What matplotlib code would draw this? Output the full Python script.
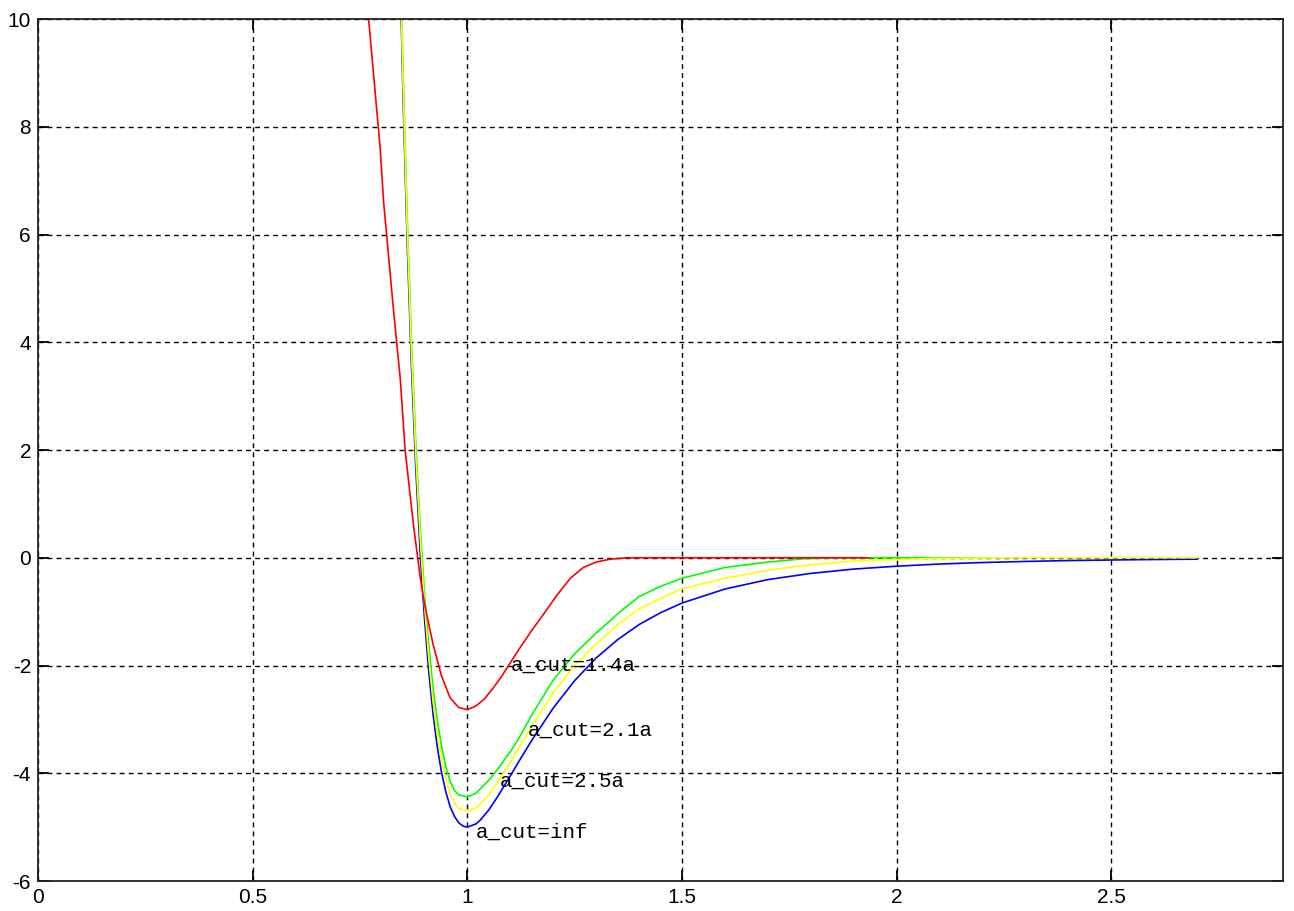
import matplotlib
matplotlib.use("Agg")
import matplotlib.pyplot as plt

plt.rcParams["axes.unicode_minus"] = False

# a_cut = inf
x_inf = [0.82, 0.83, 0.84, 0.85, 0.86, 0.87, 0.88, 0.89, 0.90, 0.91, 0.92, 0.93, 0.94, 0.95,
         0.96, 0.97, 0.98, 0.99, 1.00, 1.02, 1.03, 1.05, 1.07, 1.10, 1.12, 1.15, 1.20, 1.25,
         1.30, 1.35, 1.40, 1.45, 1.50, 1.60, 1.70, 1.80, 1.90, 2.00, 2.10, 2.20, 2.30, 2.40,
         2.50, 2.60, 2.70]
y_inf = [21.2, 16.2, 12.1, 8.63, 5.83, 3.53, 1.65, 0.12, -1.11, -2.10, -2.89, -3.51, -3.99, -4.35,
         -4.62, -4.80, -4.92, -4.98, -5.00, -4.94, -4.87, -4.68, -4.44, -4.05, -3.78, -3.39, -2.79, -2.28,
         -1.86, -1.52, -1.24, -1.02, -0.84, -0.58, -0.405, -0.29, -0.21, -0.156, -0.116, -0.088, -0.068, -0.052,
         -0.041, -0.032, -0.026]

# a_cut = 2.5a
x_25 = [0.83, 0.84, 0.85, 0.86, 0.87, 0.88, 0.89, 0.90, 0.91, 0.92, 0.93, 0.94, 0.95, 0.96,
        0.97, 0.98, 1.00, 1.02, 1.05, 1.07, 1.10, 1.12, 1.15, 1.20, 1.25, 1.30, 1.35, 1.40,
        1.45, 1.50, 1.60, 1.70, 1.80, 1.90, 2.00, 2.10, 2.30, 2.70]
y_25 = [16.5, 12.4, 8.9, 6.1, 3.8, 1.9, 0.4, -0.85, -1.85, -2.65, -3.27, -3.75, -4.12, -4.38,
        -4.55, -4.65, -4.70, -4.65, -4.40, -4.17, -3.80, -3.53, -3.13, -2.50, -2.00, -1.60, -1.24, -0.95,
        -0.75, -0.58, -0.38, -0.23, -0.13, -0.06, -0.03, -0.01, 0.0, 0.0]

# a_cut = 2.1a
x_21 = [0.83, 0.84, 0.85, 0.86, 0.87, 0.88, 0.89, 0.90, 0.91, 0.92, 0.93, 0.94, 0.95, 0.96,
        0.97, 0.98, 1.00, 1.02, 1.05, 1.07, 1.10, 1.12, 1.15, 1.20, 1.25, 1.30, 1.35, 1.40,
        1.45, 1.50, 1.60, 1.70, 1.78, 1.85, 2.22]
y_21 = [16.6, 12.5, 9.1, 6.3, 4.0, 2.1, 0.6, -0.65, -1.62, -2.42, -3.02, -3.50, -3.88, -4.15,
        -4.32, -4.40, -4.44, -4.37, -4.13, -3.93, -3.60, -3.35, -2.92, -2.27, -1.78, -1.40, -1.04, -0.72,
        -0.53, -0.38, -0.18, -0.08, -0.02, 0.0, 0.0]

# a_cut = 1.4a
x_14 = [0.76, 0.770, 0.797, 0.805, 0.828, 0.844, 0.855, 0.875, 0.89, 0.90, 0.92, 0.94, 0.96, 0.98,
        1.00, 1.02, 1.04, 1.06, 1.08, 1.10, 1.12, 1.15, 1.18, 1.21, 1.24, 1.27, 1.30, 1.33,
        1.37, 1.935]
y_14 = [11.2, 10.0, 7.6, 6.6, 4.6, 3.3, 2.0, 0.58, -0.35, -0.85, -1.60, -2.20, -2.60, -2.78,
        -2.82, -2.75, -2.62, -2.42, -2.20, -1.95, -1.70, -1.35, -1.02, -0.68, -0.38, -0.18, -0.08, -0.03,
        0.0, 0.0]

labels = ["a_cut=1.4a", "a_cut=2.1a", "a_cut=2.5a", "a_cut=inf"]
label_x = [1.10, 1.14, 1.075, 1.02]
label_y = [-2.0, -3.2, -4.15, -5.1]

xticks = [0, 0.5, 1, 1.5, 2, 2.5]
xtick_labels = ["0", "0.5", "1", "1.5", "2", "2.5"]
yticks = [-6, -4, -2, 0, 2, 4, 6, 8, 10]

fig = plt.figure(figsize=(12.94, 9.11), dpi=100)
ax = fig.add_axes([0.0294, 0.0329, 0.9621, 0.9462])

ax.plot(x_inf, y_inf, color=(0, 0, 1), lw=1.2)
ax.plot(x_21, y_21, color=(0, 1, 0), lw=1.2)
ax.plot(x_25, y_25, color=(1, 1, 0), lw=1.2)
ax.plot(x_14, y_14, color=(1, 0, 0), lw=1.2)

for txt, tx, ty in zip(labels, label_x, label_y):
    ax.text(tx, ty, txt, family="Liberation Mono", fontsize=15, va="center", ha="left")

ax.set_xlim(0, 2.9)
ax.set_ylim(-6, 10)
ax.set_xticks(xticks)
ax.set_xticklabels(xtick_labels)
ax.set_yticks(yticks)
ax.grid(True, color="black", linestyle=(0, (3.5, 3)), linewidth=1.0)
ax.tick_params(direction="in", length=8, width=1.3, top=True, right=True,
               labelsize=15, pad=5)
for lbl in ax.get_xticklabels() + ax.get_yticklabels():
    lbl.set_family("Liberation Sans")
for sp in ax.spines.values():
    sp.set_linewidth(1.3)
    sp.set_color("#222222")

fig.savefig("out.png", dpi=100)
